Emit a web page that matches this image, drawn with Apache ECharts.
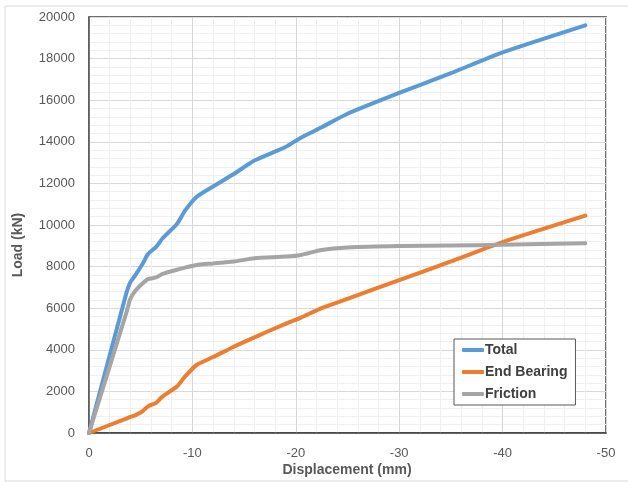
<!DOCTYPE html>
<html>
<head>
<meta charset="utf-8">
<script src="https://cdn.jsdelivr.net/npm/echarts@6/dist/echarts.min.js"></script>
<style>
  html, body { margin: 0; padding: 0; background: #fff; }
  #chart { width: 628px; height: 482px; }
</style>
</head>
<body>
<div id="chart"></div>
<script>
// displacement (mm), shared by all three curves
const displacement = [0, -3.6, -4.0, -4.5, -5.2, -5.7, -6.5, -7.1, -8.5, -9.3, -10.4, -12, -14, -16, -19, -20.5, -22.5, -25, -30, -35, -40, -48]
const total = [0, 6700, 7250, 7600, 8150, 8600, 8950, 9350, 10050, 10700, 11350, 11850, 12450, 13100, 13750, 14200, 14700, 15350, 16350, 17300, 18300, 19600]
const endBearing = [0, 690, 770, 860, 1050, 1280, 1450, 1750, 2230, 2720, 3270, 3650, 4150, 4600, 5250, 5550, 6000, 6450, 7350, 8250, 9180, 10450]
const friction = [0, 5760, 6450, 6850, 7200, 7400, 7480, 7650, 7850, 7950, 8080, 8150, 8240, 8400, 8480, 8560, 8800, 8920, 8990, 9010, 9050, 9120]

const seriesNames = ['Total', 'End Bearing', 'Friction']
const seriesColors = ['#5b9bd5', '#ed7d31', '#a5a5a5']
const seriesValues = [total, endBearing, friction]

const font = 'Liberation Sans'
const myChart = echarts.init(document.getElementById('chart'))

const option = {
  animation: false,
  backgroundColor: '#fff',
  textStyle: { fontFamily: font },
  grid: {
    left: 89, right: 22, top: 17, bottom: 49,
    show: true, borderColor: '#404040', borderWidth: 1.5
  },
  legend: {
    orient: 'vertical',
    left: 454, top: 339,
    data: seriesNames,
    itemWidth: 22, itemHeight: 4, itemGap: 8,
    padding: [4, 8, 4, 8],
    borderColor: '#595959', borderWidth: 1,
    backgroundColor: '#fff',
    icon: 'roundRect',
    textStyle: { fontFamily: font, fontSize: 14, fontWeight: 'bold', color: '#404040', padding: [0, 0, 0, -4] }
  },
  xAxis: {
    type: 'value',
    min: -50, max: 0, interval: 10,
    inverse: true,
    axisLine: { show: true, onZero: false, lineStyle: { color: '#404040', width: 1.5 } },
    axisTick: { show: false },
    axisLabel: { color: '#595959', fontSize: 13, margin: 14, formatter: v => String(v) },
    splitLine: { show: true, lineStyle: { color: '#d9d9d9' } },
    minorTick: { show: false, splitNumber: 5 },
    minorSplitLine: { show: true, lineStyle: { color: '#f0f0f0' } }
  },
  yAxis: {
    type: 'value',
    min: 0, max: 20000, interval: 2000,
    axisLine: { show: true, lineStyle: { color: '#595959', width: 1.5 } },
    axisTick: { show: false },
    axisLabel: { color: '#595959', fontSize: 13, margin: 14, formatter: v => String(v) },
    splitLine: { show: true, lineStyle: { color: '#d9d9d9' } },
    minorTick: { show: false, splitNumber: 5 },
    minorSplitLine: { show: true, lineStyle: { color: '#f0f0f0' } }
  },
  graphic: [
    {
      type: 'rect', silent: true, z: -10,
      shape: { x: 5, y: 6, width: 640, height: 475 },
      style: { fill: 'none', stroke: '#d9d9d9', lineWidth: 1 }
    },
    {
      type: 'text', x: 347, y: 470,
      style: { text: 'Displacement (mm)', font: 'bold 14px ' + font, fill: '#595959', align: 'center', verticalAlign: 'middle' }
    },
    {
      type: 'text', x: 18, y: 245, rotation: Math.PI / 2,
      style: { text: 'Load (kN)', font: 'bold 14px ' + font, fill: '#595959', align: 'center', verticalAlign: 'middle' }
    }
  ],
  series: seriesNames.map((name, i) => ({
    name: name,
    type: 'line',
    showSymbol: false,
    symbol: 'none',
    smooth: 0.2,
    color: seriesColors[i],
    lineStyle: { width: 4, cap: 'round', join: 'round' },
    data: displacement.map((d, k) => [d, seriesValues[i][k]])
  }))
}
myChart.setOption(option)
</script>
</body>
</html>
